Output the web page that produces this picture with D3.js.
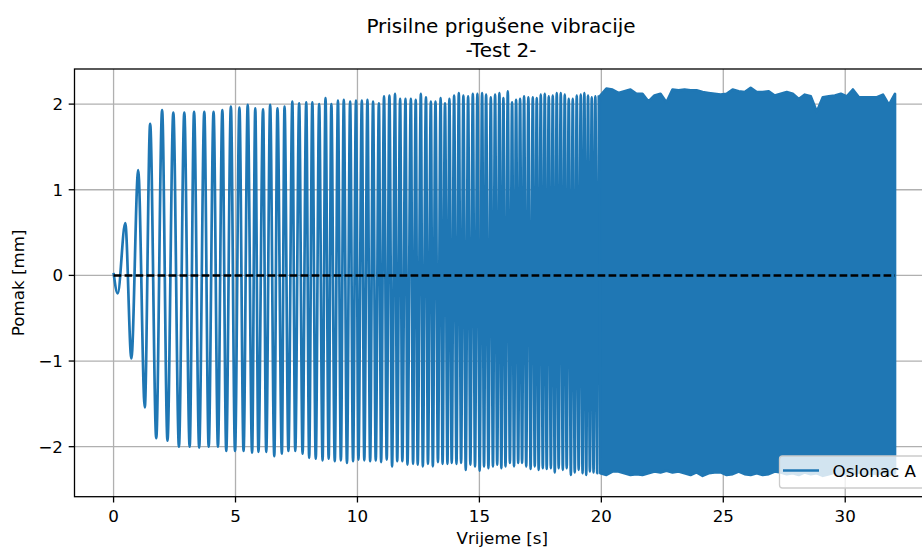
<!DOCTYPE html>
<html><head><meta charset="utf-8">
<script src="https://cdn.jsdelivr.net/npm/d3@7"></script>
<style>html,body{margin:0;background:#fff}svg{display:block;font-family:"DejaVu Sans",sans-serif}</style>
</head><body><svg id="c" width="922" height="554"></svg>
<script>
// ---------- data ----------
const titleLines = ["Prisilne prigušene vibracije", "-Test 2-"];
const xLabel = "Vrijeme [s]";
const yLabel = "Pomak [mm]";
const seriesName = "Oslonac A";
const xTicks = [0, 5, 10, 15, 20, 25, 30];
const yTicks = [-2, -1, 0, 1, 2];

// individually readable extremes of the oscillation (time [s], displacement [mm])
const peakT = [0, 0.17, 0.48, 0.73, 1.01, 1.28, 1.50, 1.75, 1.99, 2.21, 2.45, 2.68, 2.90, 3.12, 3.30, 3.51, 3.72, 3.90, 4.10, 4.28,
  4.46, 4.62, 4.81, 4.98, 5.16, 5.33, 5.50, 5.68, 5.81, 5.94, 6.13, 6.26, 6.42, 6.59, 6.72, 6.90, 7.01, 7.17, 7.33, 7.45,
  7.61, 7.75, 7.90, 8.02, 8.15, 8.29, 8.43, 8.57, 8.69, 8.82, 8.93, 9.07, 9.20, 9.32, 9.44, 9.57, 9.70, 9.82, 9.94, 10.04,
  10.18, 10.28, 10.41, 10.52, 10.64, 10.75, 10.88, 10.97, 11.09, 11.20, 11.31, 11.42, 11.54, 11.63, 11.75, 11.84, 11.97, 12.05, 12.19, 12.28,
  12.39, 12.47, 12.60, 12.68, 12.81, 12.89, 13.01, 13.09, 13.20, 13.30, 13.41, 13.49, 13.59, 13.69, 13.77,
  13.866, 13.963, 14.06, 14.156, 14.25, 14.344, 14.44, 14.537, 14.63, 14.73, 14.82, 14.918, 15.01, 15.111, 15.19, 15.275,
  15.37, 15.467, 15.555, 15.643, 15.73, 15.82, 15.90, 15.984, 16.07, 16.164, 16.25, 16.34, 16.42, 16.504, 16.59, 16.668,
  16.75, 16.832, 16.92, 17.008, 17.10, 17.189, 17.27, 17.352, 17.43, 17.516, 17.60, 17.68, 17.76, 17.844, 17.93, 18.008,
  18.09, 18.172, 18.25, 18.336, 18.42, 18.50, 18.58, 18.664, 18.75, 18.828, 18.91, 18.992, 19.07, 19.156, 19.23, 19.303,
  19.38, 19.455, 19.53, 19.607, 19.68, 19.754, 19.83, 19.906];
const peakY = [0.03, -0.21, 0.61, -0.97, 1.23, -1.54, 1.77, -1.90, 1.93, -1.93, 1.90, -2.00, 1.90, -2.00, 1.91, -2.01, 1.91, -2.00, 1.91, -2.00,
  1.93, -2.05, 1.97, -2.05, 1.96, -2.05, 1.99, -2.07, 1.95, -2.06, 1.94, -2.06, 1.99, -2.11, 1.95, -2.08, 1.97, -2.05, 2.03, -2.05,
  2.01, -2.08, 2.02, -2.13, 2.02, -2.14, 2.00, -2.16, 2.07, -2.14, 2.00, -2.17, 2.04, -2.16, 2.05, -2.19, 2.03, -2.17, 2.04, -2.15,
  2.04, -2.16, 2.05, -2.17, 2.03, -2.16, 2.01, -2.18, 2.09, -2.15, 2.10, -2.23, 2.12, -2.17, 2.06, -2.17, 2.06, -2.21, 2.06, -2.20,
  2.05, -2.21, 2.12, -2.23, 2.08, -2.20, 2.03, -2.23, 2.03, -2.18, 2.07, -2.20, 2.01, -2.20, 2.06,
  -2.19, 2.10, -2.20, 2.13, -2.19, 2.10, -2.27, 2.09, -2.21, 2.12, -2.23, 2.12, -2.28, 2.13, -2.23, 2.11,
  -2.25, 2.08, -2.23, 2.11, -2.21, 2.13, -2.25, 2.07, -2.23, 2.15, -2.19, 2.02, -2.23, 2.05, -2.19, 2.06,
  -2.19, 2.09, -2.23, 2.08, -2.26, 2.08, -2.23, 2.07, -2.27, 2.11, -2.25, 2.12, -2.26, 2.09, -2.25, 2.10,
  -2.30, 2.13, -2.25, 2.13, -2.27, 2.11, -2.25, 2.06, -2.33, 2.06, -2.30, 2.10, -2.27, 2.11, -2.31, 2.13,
  -2.33, 2.10, -2.29, 2.08, -2.30, 2.09, -2.31, 2.10];

// dense part: upper / lower envelope sampled on an even time grid from envStart to envEnd
const envStart = 19.96, envEnd = 32.04;
const envUpper = [2.10, 2.18, 2.17, 2.13, 2.15, 2.17, 2.12, 2.12, 2.03, 2.10, 2.12, 2.02, 2.17, 2.16, 2.17, 2.16, 2.16, 2.14, 2.13, 2.12,
  2.11, 2.12, 2.17, 2.15, 2.14, 2.19, 2.14, 2.14, 2.15, 2.10, 2.12, 2.14, 2.12, 2.06, 2.11, 2.09, 1.91, 2.08, 2.09, 2.10,
  2.12, 2.09, 2.17, 2.08, 2.08, 2.08, 2.08, 2.11, 1.99, 2.12];
const envLower = [-2.31, -2.33, -2.29, -2.29, -2.31, -2.33, -2.32, -2.33, -2.31, -2.29, -2.30, -2.28, -2.30, -2.29, -2.31, -2.33, -2.30, -2.34, -2.31, -2.30,
  -2.30, -2.33, -2.32, -2.29, -2.32, -2.33, -2.31, -2.33, -2.32, -2.29, -2.30, -2.32, -2.31, -2.33, -2.30, -2.32, -2.31, -2.34, -2.32, -2.30,
  -2.33, -2.31, -2.32, -2.30, -2.33, -2.31, -2.32, -2.30, -2.33, -2.31];
const refLevel = 0;

// ---------- drawing ----------
const svg = d3.select("#c");
const L = 74.5, T = 69, R = 934, B = 496.7;
const blue = "#1f77b4";
const lw = 2.7;
const x = d3.scaleLinear().domain([-1.602, 33.64]).range([L, R]);
const y = d3.scaleLinear().domain([-2.584, 2.41]).range([B, T]);

svg.append("rect").attr("width", 922).attr("height", 554).attr("fill", "#fff");
svg.append("defs").append("clipPath").attr("id", "clip")
  .append("rect").attr("x", L).attr("y", T).attr("width", R - L).attr("height", B - T);

// grid
const grid = svg.append("g").attr("stroke", "#b0b0b0").attr("stroke-width", 1.3);
grid.selectAll(".gx").data(xTicks).join("line")
  .attr("x1", d => x(d)).attr("x2", d => x(d)).attr("y1", T).attr("y2", B);
grid.selectAll(".gy").data(yTicks).join("line")
  .attr("x1", L).attr("x2", R).attr("y1", d => y(d)).attr("y2", d => y(d));

const plot = svg.append("g").attr("clip-path", "url(#clip)");

// readable oscillations
const pts = peakT.map((t, i) => [t, peakY[i]]);
plot.append("path")
  .attr("d", d3.line().x(d => x(d[0])).y(d => y(d[1])).curve(d3.curveMonotoneX)(pts))
  .attr("fill", "none").attr("stroke", blue).attr("stroke-width", lw).attr("stroke-linejoin", "round");

// dense band
const n = envUpper.length;
const env = envUpper.map((u, i) => ({ t: envStart + i * (envEnd - envStart) / (n - 1), u, l: envLower[i] }));
const area = d3.area().x(d => x(d.t)).y0(d => y(d.l)).y1(d => y(d.u));
plot.append("path").attr("d", area(env)).attr("fill", blue)
  .attr("stroke", blue).attr("stroke-width", lw).attr("stroke-linejoin", "round");
plot.append("path")
  .attr("d", d3.line().x(d => x(d[0])).y(d => y(d[1]))([pts[pts.length - 1], [env[0].t, env[0].l]]))
  .attr("stroke", blue).attr("stroke-width", lw).attr("fill", "none");

// zero reference dashed line
plot.append("line")
  .attr("x1", x(0)).attr("x2", x(envEnd)).attr("y1", y(refLevel)).attr("y2", y(refLevel))
  .attr("stroke", "#000").attr("stroke-width", 2.5).attr("stroke-dasharray", "7.7,3.3");

// spines
svg.append("rect").attr("x", L).attr("y", T).attr("width", R - L).attr("height", B - T)
  .attr("fill", "none").attr("stroke", "#000").attr("stroke-width", 1.3);

// ticks
const fs = 16.7;
const tk = svg.append("g");
tk.selectAll(".tx").data(xTicks).join("line")
  .attr("x1", d => x(d)).attr("x2", d => x(d)).attr("y1", B).attr("y2", B + 5.8)
  .attr("stroke", "#000").attr("stroke-width", 1.3);
tk.selectAll(".txl").data(xTicks).join("text")
  .attr("x", d => x(d)).attr("y", 521.7).attr("text-anchor", "middle")
  .attr("font-size", fs).attr("fill", "#000").text(d => d3.format("d")(d));
tk.selectAll(".ty").data(yTicks).join("line")
  .attr("x1", L - 5.8).attr("x2", L).attr("y1", d => y(d)).attr("y2", d => y(d))
  .attr("stroke", "#000").attr("stroke-width", 1.3);
tk.selectAll(".tyl").data(yTicks).join("text")
  .attr("x", 63).attr("y", d => y(d) + 6.1).attr("text-anchor", "end")
  .attr("font-size", fs).attr("fill", "#000").text(d => d < 0 ? "\u2212" + Math.abs(d) : String(d));

// axis labels
svg.append("text").attr("x", (L + R) / 2 - 2).attr("y", 544).attr("text-anchor", "middle")
  .attr("font-size", fs).attr("fill", "#000").text(xLabel);
svg.append("text").attr("transform", `translate(24,${(T + B) / 2}) rotate(-90)`)
  .attr("text-anchor", "middle").attr("font-size", fs).attr("fill", "#000").text(yLabel);

// title
svg.selectAll(".title").data(titleLines).join("text")
  .attr("x", 501).attr("y", (d, i) => 32.7 + i * 23.8).attr("text-anchor", "middle")
  .attr("font-size", 20).attr("fill", "#000").text(d => d);

// legend
const lg = svg.append("g");
lg.append("rect").attr("x", 779.5).attr("y", 456).attr("width", 170).attr("height", 32).attr("rx", 3)
  .attr("fill", "#fff").attr("fill-opacity", 0.8).attr("stroke", "#cccccc").attr("stroke-width", 1.3);
lg.append("line").attr("x1", 783).attr("x2", 819).attr("y1", 470.5).attr("y2", 470.5)
  .attr("stroke", blue).attr("stroke-width", 2.5);
lg.append("text").attr("x", 832.5).attr("y", 476.8).attr("font-size", fs).attr("fill", "#000").text(seriesName);
</script></body></html>
